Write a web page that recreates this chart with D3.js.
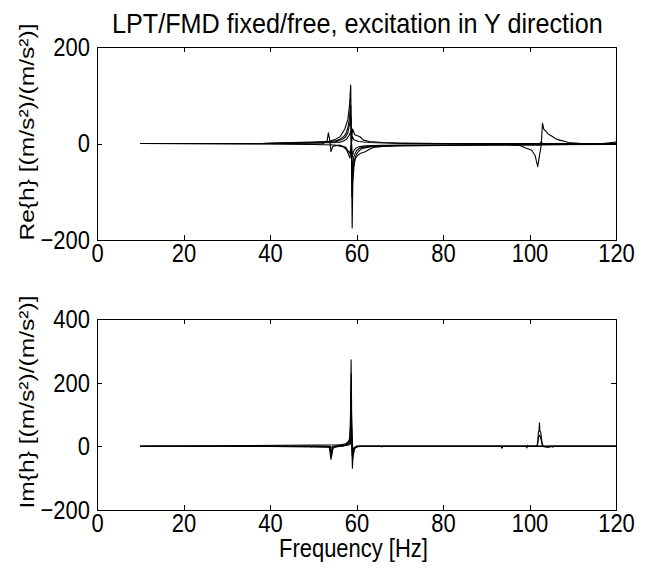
<html>
    <head>
        <script src="https://d3js.org/d3.v7.min.js"></script>
        <style>
            body { margin: 0; background: #fff; }
            text { font-family: 'Liberation Sans', Arial, sans-serif; fill: #000; }
            .axis path, .axis line { stroke: #000; shape-rendering: crispEdges; }
            .curve { fill: none; stroke: #000; stroke-width: 1.1; stroke-linejoin: round; }
        </style>
    </head>
    <body>
        <svg width="650" height="569" id="frf"></svg>
        <script>
            // tick values
            const freqTicks = [0, 20, 40, 60, 80, 100, 120];
            const reTicks = [-200, 0, 200];
            const imTicks = [-200, 0, 200, 400];

            // Re{h} traces, [frequency Hz, value]
            const reA = [[10,0],[38,0],[45,1],[50,2],[53,3],[54,5],[55,8],[56.2,14],[57.3,30],[58,50],[58.4,80],[58.66,121],[58.8,20],[58.9,-80],[59.0,-175],[59.15,-80],[59.4,-50],[59.7,-32],[60.2,-25],[61,-20],[62,-17],[63,-12],[64,-8],[66,-6],[70,-5],[80,-4],[90,-3],[93.5,-3],[94,-1],[94.5,-3],[97.8,-4],[99,-9],[100.5,-14],[101.3,-25],[101.9,-48],[102.3,-25],[102.7,-5],[103.0,42],[103.3,30],[103.8,25],[104.3,20],[104.8,17],[105.4,14],[106,10],[107,7],[108.2,4],[109,2],[112,0],[119.5,-1],[120,2]];
            const reB = [[10,0],[38,0],[45,2],[50,3],[53,4],[55,5],[56,8],[57,14],[57.5,20],[58,32],[58.3,48],[58.65,80],[58.8,0],[58.95,-110],[59.2,-55],[59.5,-35],[60,-22],[60.5,-16],[61,-12],[62,-9],[63,-7],[65,-5.5],[70,-4],[90,-3],[100,-3],[110,-2],[120,-1]];
            const reC = [[10,0],[38,0],[45,1],[50,2],[53,2.5],[55,3],[56,6],[57,10],[57.5,14],[58,22],[58.4,40],[58.7,55],[58.85,0],[59.05,-60],[59.3,-30],[59.6,-22],[60,-15],[60.5,-11],[61,-9],[62,-7],[64,-5],[70,-3.5],[90,-2.5],[120,-2]];
            const reD = [[10,0],[40,-0.5],[52,-1],[53.2,5],[53.5,22],[53.8,8],[54.1,-17],[54.5,-6],[56,-3],[57.5,-8],[58.4,-20],[58.7,-10],[59,15],[59.4,8],[60.5,4],[63,2],[70,0],[93.8,0],[94,-4],[94.2,0],[120,0]];
            const reE = [[10,0],[40,-1],[50,-2],[55,-3],[57,-7],[57.7,-13],[58.5,-30],[58.8,0],[59.1,30],[59.6,18],[60.8,14],[61.6,7],[63,4],[66,2],[70,1],[80,0],[117,0],[119,2],[120,3]];
            const reF = [[10,0],[38,0],[50,1],[56,2],[57,5],[57.7,9],[58.3,17],[58.7,25],[58.85,0],[59,-28],[59.3,-16],[59.8,-10],[60.5,-7],[62,-5],[66,-3.5],[80,-3],[95,-2],[102.4,-3],[102.6,3],[103,0],[120,-2]];

            // Im{h} traces
            const imA = [[10,0],[49.5,0],[49.6,-2],[49.7,0],[53,0],[53.7,-3],[54.1,-41],[54.5,-8],[55,-1],[57,1],[58,4],[58.4,15],[58.6,60],[58.75,272],[58.85,100],[58.95,-10],[59.05,-69],[59.25,-15],[59.8,-2],[61,0],[65.8,0],[65.9,-2],[66,0],[93.4,0],[93.6,-6],[93.8,0],[101.6,0],[101.9,10],[102.05,44],[102.2,48],[102.3,74],[102.4,48],[102.6,44],[102.9,10],[103.2,0],[104.5,-3],[104.7,0],[120,0]];
            const imB = [[10,0],[40,0],[55,-3],[56,1],[58,5],[58.5,30],[58.8,228],[58.9,60],[59.0,-30],[59.2,-10],[60,0],[120,0]];
            const imC = [[10,0],[50,0],[53.8,-2],[54.2,-30],[54.6,-3],[57,1],[58.5,20],[58.8,113],[59.0,10],[59.1,-40],[59.4,-5],[60,0],[120,0]];
            const imD = [[10,0],[54,0],[54.2,-20],[54.5,0],[58.6,10],[58.85,60],[59.05,-20],[59.3,-25],[59.6,-5],[60.5,0],[120,0]];
            const imE = [[10,0],[58.5,5],[58.9,30],[59.2,-10],[60,0],[93.6,0],[93.7,-4],[93.8,0],[99.2,0],[99.4,-5],[99.6,3],[99.8,0],[101.8,0],[102.1,30],[102.4,35],[102.7,20],[103.0,0],[104.3,-3],[104.6,0],[105.5,-2],[105.7,0],[120,0]];

            const svg = d3.select('svg#frf');
            const left = 97, right = 616;
            const stretch = 1.2;

            const x = d3.scaleLinear().domain([0, 120]).range([left, right]);

            const panels = [
                { id: 're', top: 47, bottom: 240, domain: [-200, 200], ticks: reTicks, series: [reA, reB, reC, reD, reE, reF], label: 'Re{h} [(m/s²)/(m/s²)]', labelY: 132 },
                { id: 'im', top: 319, bottom: 510, domain: [-200, 400], ticks: imTicks, series: [imA, imB, imC, imD, imE], label: 'Im{h} [(m/s²)/(m/s²)]', labelY: 402 }
            ];

            panels.forEach(function(p) {
                let y = d3.scaleLinear().domain(p.domain).range([p.bottom, p.top]);

                svg.append('clipPath').attr('id', 'clip-' + p.id)
                    .append('rect')
                    .attr('x', left).attr('y', p.top)
                    .attr('width', right - left).attr('height', p.bottom - p.top);

                let line = d3.line().x(d => x(d[0])).y(d => y(d[1]));

                svg.append('g')
                    .attr('clip-path', `url(#clip-${p.id})`)
                    .selectAll('path')
                    .data(p.series)
                    .join('path')
                    .attr('class', 'curve')
                    .attr('d', line);

                // box with inward ticks on all four sides
                let xb = svg.append('g').attr('class', 'axis')
                    .attr('transform', `translate(0, ${p.bottom})`)
                    .call(d3.axisBottom(x).tickValues(freqTicks).tickSize(-5).tickSizeOuter(0).tickPadding(3));
                xb.selectAll('text')
                    .attr('font-size', 22)
                    .attr('transform', `scale(1, ${stretch})`);

                svg.append('g').attr('class', 'axis')
                    .attr('transform', `translate(0, ${p.top})`)
                    .call(d3.axisTop(x).tickValues(freqTicks).tickSize(-5).tickSizeOuter(0).tickFormat(''));

                let yl = svg.append('g').attr('class', 'axis')
                    .attr('transform', `translate(${left}, 0)`)
                    .call(d3.axisLeft(y).tickValues(p.ticks).tickSize(-5).tickSizeOuter(0).tickPadding(7));
                yl.selectAll('text')
                    .attr('font-size', 22)
                    .attr('transform', `scale(1, ${stretch})`);

                svg.append('g').attr('class', 'axis')
                    .attr('transform', `translate(${right}, 0)`)
                    .call(d3.axisRight(y).tickValues(p.ticks).tickSize(-5).tickSizeOuter(0).tickFormat(''));

                svg.selectAll('.axis text').attr('fill', '#000');

                svg.append('text')
                    .attr('transform', `translate(34, ${p.labelY}) scale(1, ${stretch}) rotate(-90)`)
                    .attr('text-anchor', 'middle')
                    .attr('font-size', 20.5)
                    .text(p.label);
            });

            // fit a text between two x positions
            function fitText(str, x0, x1, baseline, size) {
                let t = svg.append('text')
                    .attr('font-size', size)
                    .attr('text-anchor', 'start')
                    .text(str);
                let len = t.node().getComputedTextLength();
                t.attr('transform', `translate(${x0}, ${baseline}) scale(${(x1 - x0) / len}, ${stretch})`);
                return t;
            }

            // title is centred over the axes
            fitText('LPT/FMD fixed/free, excitation in Y direction', 112, 603, 33, 22.5);
            fitText('Frequency [Hz]', 279, 428, 557, 21);
        </script>
    </body>
</html>
